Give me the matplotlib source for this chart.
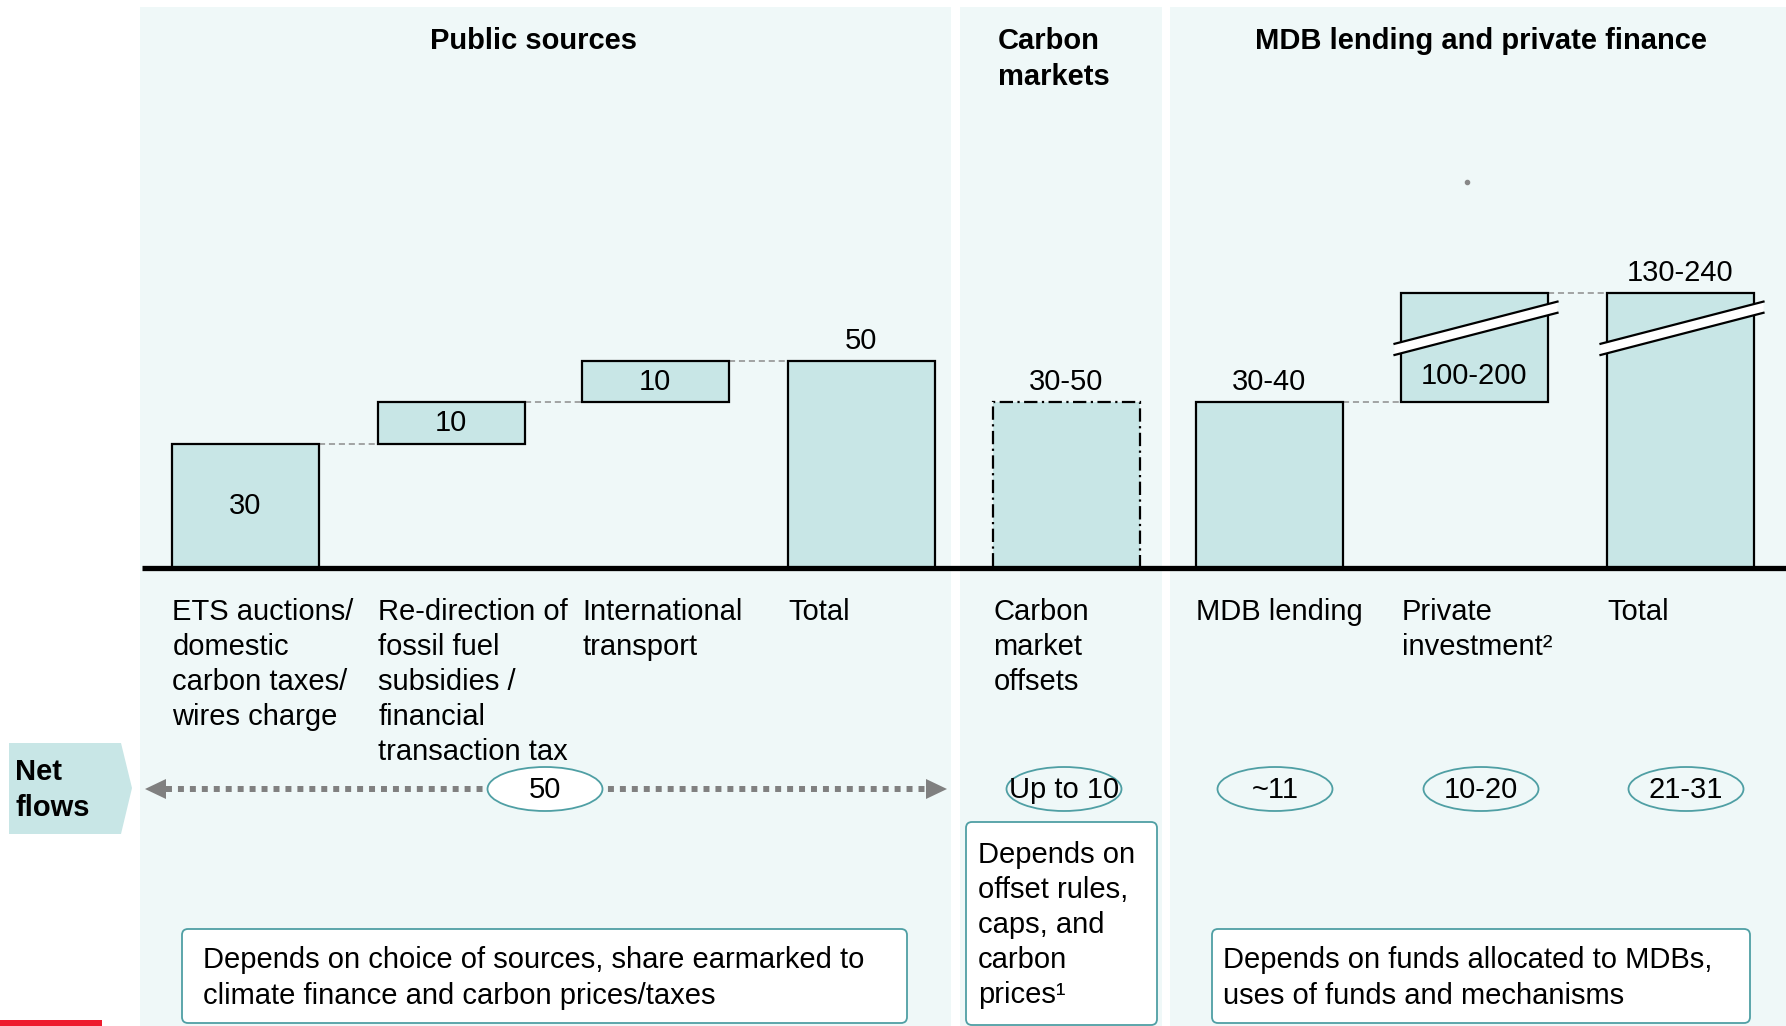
import matplotlib
matplotlib.use("Agg")
import matplotlib.pyplot as plt
from matplotlib.patches import Rectangle, FancyBboxPatch, Ellipse, Polygon

plt.rcParams['font.family'] = ['Liberation Sans', 'DejaVu Sans']

# ---------------- data ----------------
panel_titles = ["Public sources", "Carbon\nmarkets", "MDB lending and private finance"]
categories = ["ETS auctions/\ndomestic\ncarbon taxes/\nwires charge",
              "Re-direction of\nfossil fuel\nsubsidies /\nfinancial\ntransaction tax",
              "International\ntransport",
              "Total",
              "Carbon\nmarket\noffsets",
              "MDB lending",
              "Private\ninvestment\u00b2",
              "Total"]
bar_bottoms = [0, 30, 40, 0, 0, 0, 40, 0]
bar_heights = [30, 10, 10, 50, 40, 40, 26.5, 66.5]
bar_labels = ["30", "10", "10", "50", "30-50", "30-40", "100-200", "130-240"]
label_inside = [True, True, True, False, False, False, True, False]
broken = [False, False, False, False, False, False, True, True]
dashdot_edge = [False, False, False, False, True, False, False, False]
net_flow_labels = ["50", "Up to 10", "~11", "10-20", "21-31"]
note_texts = ["Depends on choice of sources, share earmarked to\nclimate finance and carbon prices/taxes",
              "Depends on\noffset rules,\ncaps, and\ncarbon\nprices\u00b9",
              "Depends on funds allocated to MDBs,\nuses of funds and mechanisms"]

# ---------------- layout (pixels) ----------------
W, H = 1786, 1026
bar_centers = [245, 451, 655, 861, 1066, 1269, 1474, 1680]
bar_width = 147
baseline_px = 568
px_per_unit = 4.14
panels = [(140, 951), (960, 1162), (1170, 1786)]
FS = 21
LS = 1.32
bar_fill = '#c8e6e6'
panel_bg = '#eff8f8'
teal = '#4f9fa4'

fig = plt.figure(figsize=(W / 100, H / 100), dpi=100)
ax = fig.add_axes([0, 0, 1, 1])
ax.set_xlim(0, W)
ax.set_ylim(H, 0)
ax.axis('off')

bx = fig.add_axes([0, (H - baseline_px) / H, 1, baseline_px / H])
bx.set_xlim(0, W)
bx.set_ylim(0, baseline_px / px_per_unit)
bx.axis('off')
bx.patch.set_alpha(0)
bx.set_zorder(2)

# panels
for (x0, x1) in panels:
    ax.add_patch(Rectangle((x0, 7), x1 - x0, H, facecolor=panel_bg, edgecolor='none', zorder=0))

# titles
ax.text(534, 41, panel_titles[0], ha='center', va='center', fontsize=FS, fontweight='bold')
ax.text(998, 59, panel_titles[1], ha='left', va='center', fontsize=FS, fontweight='bold', linespacing=LS)
ax.text(1481, 41, panel_titles[2], ha='center', va='center', fontsize=FS, fontweight='bold')

# bars
for i, (c, b, h) in enumerate(zip(bar_centers, bar_bottoms, bar_heights)):
    ls = (0, (6, 2, 1, 2)) if dashdot_edge[i] else '-'
    bx.bar(c, h, bottom=b, width=bar_width, color=bar_fill, edgecolor='black',
           linewidth=1.6, linestyle=ls, zorder=3)
    if label_inside[i]:
        frac = 0.24 if broken[i] else 0.5
        bx.text(c, b + h * frac, bar_labels[i], ha='center', va='center', fontsize=FS, zorder=5)
    else:
        bx.annotate(bar_labels[i], (c, b + h), xytext=(0, 14.5), textcoords='offset points',
                    ha='center', va='center', fontsize=FS, zorder=5)
    if broken[i]:
        xl = c - bar_width / 2 - 6
        xr = c + bar_width / 2 + 10
        yl, yr, t = 52.8, 63.0, 1.35
        bx.add_patch(Polygon([(xl, yl - t), (xr, yr - t), (xr, yr + t), (xl, yl + t)],
                             closed=True, facecolor='white', edgecolor='none', zorder=4))
        bx.plot([xl, xr], [yl + t, yr + t], color='black', lw=1.6, zorder=4.5)
        bx.plot([xl, xr], [yl - t, yr - t], color='black', lw=1.6, zorder=4.5)

# dashed connectors
connect_pairs = [(0, 1), (1, 2), (2, 3), (5, 6), (6, 7)]
for a, b in connect_pairs:
    y = bar_bottoms[a] + bar_heights[a]
    bx.plot([bar_centers[a] + bar_width / 2, bar_centers[b] - bar_width / 2], [y, y],
            color='#8c8c8c', lw=1.1, ls=(0, (4, 2.5)), zorder=2)

# baseline
bx.plot([142, W], [0, 0], color='black', lw=3.8, solid_capstyle='butt', zorder=6, clip_on=False)

# category labels
for c, lab in zip(bar_centers, categories):
    ax.text(c - bar_width / 2 + 1, 598, lab, ha='left', va='top', fontsize=FS, linespacing=LS, zorder=5)

# Net flows chevron
ax.add_patch(Polygon([(9, 743), (121, 743), (132, 788), (121, 834), (9, 834)], closed=True,
                     facecolor=bar_fill, edgecolor='none', zorder=2))
ax.text(15, 790, "Net\nflows", ha='left', va='center', fontsize=FS, fontweight='bold', linespacing=LS, zorder=3)

# dotted double arrow
ax.plot([166, 927], [789, 789], color='#808080', lw=4.3, ls=(0, (1, 1)), dash_capstyle='butt', zorder=2)
ax.add_patch(Polygon([(145, 789), (166, 779), (166, 799)], closed=True, facecolor='#808080', edgecolor='none', zorder=2))
ax.add_patch(Polygon([(947, 789), (926, 779), (926, 799)], closed=True, facecolor='#808080', edgecolor='none', zorder=2))

# net flow ellipses
ell_x = [545, 1064, 1275, 1481, 1686]
ell_w = [115, 115, 115, 115, 115]
for x, w, lab in zip(ell_x, ell_w, net_flow_labels):
    ax.add_patch(Ellipse((x, 789), w, 44, facecolor='white' if lab == "50" else 'none',
                         edgecolor=teal, lw=1.3, zorder=3))
    ax.text(x, 790, lab, ha='center', va='center', fontsize=FS, zorder=4)

# note boxes
boxes = [(182, 929, 907, 1023), (966, 822, 1157, 1025), (1212, 929, 1750, 1023)]
text_pos = [(203, 978), (978, 925), (1223, 978)]
for (x0, y0, x1, y1), (tx, ty), txt in zip(boxes, text_pos, note_texts):
    ax.add_patch(FancyBboxPatch((x0, y0), x1 - x0, y1 - y0, boxstyle="round,pad=0,rounding_size=6",
                                facecolor='white', edgecolor=teal, lw=1.3, zorder=3))
    ax.text(tx, ty, txt, ha='left', va='center', fontsize=FS, linespacing=LS, zorder=4)

# small grey dot and red footer bar
ax.plot([1467], [182], marker='o', ms=3, color='#888888', zorder=3)
ax.add_patch(Rectangle((0, 1020), 102, 6, facecolor='#ee1c2e', edgecolor='none', zorder=3))

fig.savefig('out.png', dpi=100)
